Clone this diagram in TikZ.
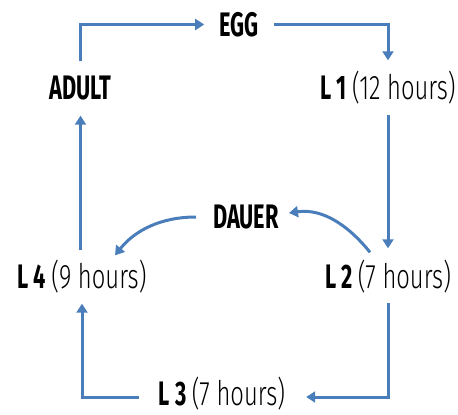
\documentclass[tikz,border=0pt]{standalone}
\usepackage{fontspec}
\setmainfont[FakeStretch=0.64]{Fira Sans}
\newfontfamily\lightfont[FakeStretch=0.70]{Fira Sans Light}
\usetikzlibrary{arrows.meta}
\definecolor{arr}{RGB}{74,126,187}
\begin{document}
\begin{tikzpicture}[x=1pt,y=-1pt,
  lbl/.style={font=\fontsize{34}{34}\selectfont\bfseries, inner sep=0pt, text height=23pt, text depth=0pt, anchor=center},
  conn/.style={draw=arr, line width=3pt, -{Triangle[width=11pt,length=9pt]}}]
\useasboundingbox (0,0) rectangle (458,415);
\newcommand\hrs[1]{{\lightfont\mdseries (#1 hours)}}
\node[lbl] (egg) at (239,24.5) {EGG};
\node[lbl] (adult) at (80.5,88) {ADULT};
\node[lbl] (l1) at (388,88) {L 1 \hrs{12}};
\node[lbl] (dauer) at (246,217) {DAUER};
\node[lbl] (l4) at (82,277) {L 4 \hrs{9}};
\node[lbl] (l2) at (388,277) {L 2 \hrs{7}};
\node[lbl] (l3) at (222,394) {L 3 \hrs{7}};
\draw[conn] ([yshift=15pt]adult.north) |- ([xshift=-15pt]egg.west);
\draw[conn] ([xshift=15pt]egg.east) -| ([yshift=16pt]l1.north);
\draw[conn] ([yshift=-15pt]l1.south) -- ([yshift=17pt]l2.north);
\draw[conn] ([xshift=-18pt,yshift=13pt]l2.north) .. controls +(-20,-25) and +(35,-5) .. ([xshift=10pt,yshift=4pt]dauer.east);
\draw[conn] ([xshift=-17pt]dauer.west) .. controls +(-35,0) and +(20,-25) .. ([xshift=33pt,yshift=10pt]l4.north);
\draw[conn] ([yshift=15pt]l4.north -| adult.south) -- ([yshift=-16pt]adult.south);
\draw[conn] ([yshift=-14pt]l2.south) |- ([xshift=21pt,yshift=-3pt]l3.east);
\draw[conn] ([xshift=-20pt,yshift=-3pt]l3.west) -| ([yshift=-15pt]l4.south);
\end{tikzpicture}
\end{document}
